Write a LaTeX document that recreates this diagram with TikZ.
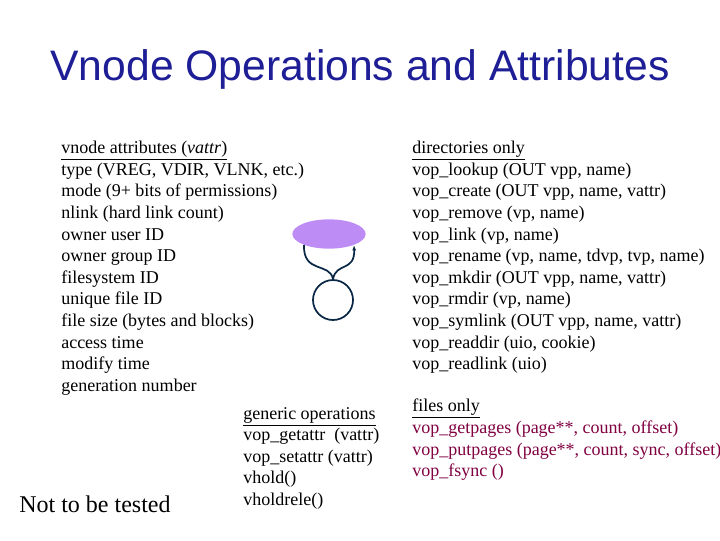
\documentclass[tikz,border=0pt]{standalone}
\usepackage{fontspec}
\setmainfont{Liberation Serif}
\newfontfamily\titlefont{Liberation Sans}
\usetikzlibrary{arrows.meta,shapes.geometric}
\definecolor{titleblue}{RGB}{30,30,150}
\definecolor{navy}{RGB}{10,40,70}
\definecolor{lav}{RGB}{190,140,245}
\definecolor{maroon}{RGB}{128,0,64}
\tikzset{
  txt/.style={anchor=north west,align=left,inner sep=0pt,font=\fontsize{13.5pt}{16.2pt}\selectfont},
  ln/.style={navy,line width=1.3pt}
}
\begin{document}
\begin{tikzpicture}[x=0.75pt,y=-0.75pt]
\useasboundingbox (0,0) rectangle (720,540);
\node[font=\titlefont\fontsize{32pt}{36pt}\selectfont,text=titleblue] (title) at (360,69) {Vnode Operations and Attributes};
\node[txt] (attr) at (61,141) {\underline{vnode attributes (\textit{vattr})}\\
type (VREG, VDIR, VLNK, etc.)\\
mode (9+ bits of permissions)\\
nlink (hard link count)\\
owner user ID\\
owner group ID\\
filesystem ID\\
unique file ID\\
file size (bytes and blocks)\\
access time\\
modify time\\
generation number};
\node[txt] (dirs) at (412,141) {\underline{directories only}\\
vop\_lookup (OUT vpp, name)\\
vop\_create (OUT vpp, name, vattr)\\
vop\_remove (vp, name)\\
vop\_link (vp, name)\\
vop\_rename (vp, name, tdvp, tvp, name)\\
vop\_mkdir (OUT vpp, name, vattr)\\
vop\_rmdir (vp, name)\\
vop\_symlink (OUT vpp, name, vattr)\\
vop\_readdir (uio, cookie)\\
vop\_readlink (uio)};
\node[txt] (gen) at (243,407) {\underline{generic operations}\\
vop\_getattr\ \ (vattr)\\
vop\_setattr (vattr)\\
vhold()\\
vholdrele()};
\node[txt] (files) at (412,399) {\underline{files only}\\
\textcolor{maroon}{vop\_getpages (page**, count, offset)}\\
\textcolor{maroon}{vop\_putpages (page**, count, sync, offset)}\\
\textcolor{maroon}{vop\_fsync ()}};
\node[anchor=base west,inner sep=0pt,font=\fontsize{18pt}{20pt}\selectfont] (nt) at (19,512) {Not to be tested};
\node[ellipse,fill=lav,minimum width=55pt,minimum height=22pt,inner sep=0pt] (ell) at (329,234) {};
\node[circle,draw=navy,line width=1.3pt,minimum size=30pt,inner sep=0pt] (circ) at (333,300) {};
\coordinate (el) at (304,245);
\coordinate (er) at (354,245);
\draw[ln] (el) .. controls (303,274) and (330,262) .. (circ.north);
\draw[ln,-{Latex[length=4pt]}] (circ.north) .. controls (336,262) and (355,272) .. (er);
\end{tikzpicture}
\end{document}
